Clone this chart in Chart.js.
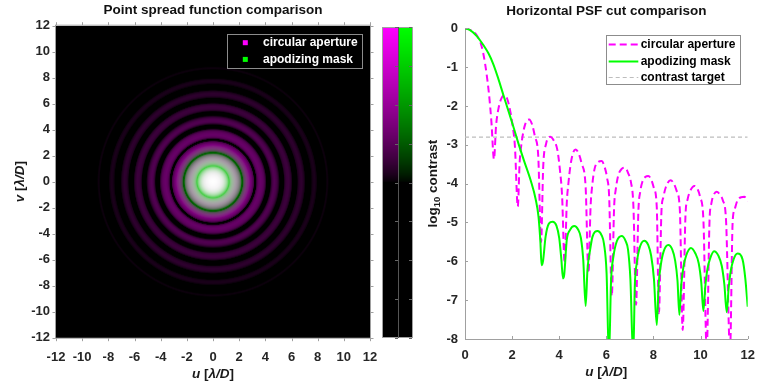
<!DOCTYPE html>
<html>
<head>
<meta charset="utf-8">
<script src="https://cdn.jsdelivr.net/npm/chart.js@4.4.1/dist/chart.umd.min.js"></script>
<style>
    html, body { margin: 0; padding: 0; background: #fff; }
    #wrap { position: relative; width: 757px; height: 383px; overflow: hidden; }
    #psfChart { position: absolute; left: 0; top: 0; }
    #cutChart { position: absolute; left: 418px; top: 0; }
</style>
</head>
<body>
<div id="wrap">
    <canvas id="psfChart" width="418" height="383"></canvas>
    <canvas id="cutChart" width="347" height="383"></canvas>
</div>
<script>
// horizontal cut through the PSF (u >= 0), log10 contrast
const circU = [0, 0.25, 0.5, 0.7, 0.85, 1.02, 1.12, 1.23, 1.32, 1.41, 1.52, 1.65, 1.78, 1.91, 2.02, 2.12, 2.24,
    2.32, 2.40, 2.55, 2.72, 2.85, 2.97, 3.11, 3.23, 3.32, 3.44, 3.61, 3.78, 3.92, 4.03, 4.12, 4.23,
    4.32, 4.39, 4.47, 4.58, 4.70, 4.84, 4.95, 5.12, 5.24, 5.33, 5.40, 5.50, 5.64, 5.80, 5.95, 6.03, 6.12, 6.23,
    6.33, 6.40, 6.50, 6.65, 6.79, 6.94, 7.04, 7.15, 7.26, 7.36, 7.44, 7.53, 7.65, 7.78, 7.92, 8.02, 8.14, 8.23,
    8.34, 8.42, 8.52, 8.73, 8.88, 8.98, 9.12, 9.24, 9.36, 9.45, 9.55, 9.74, 9.88, 9.98, 10.12, 10.26,
    10.38, 10.46, 10.55, 10.68, 10.84, 10.94, 11.08, 11.25, 11.36, 11.44, 11.56, 11.72, 11.86, 12.0];
const circLog = [0, -0.05, -0.18, -0.45, -0.9, -1.7, -2.4, -3.37, -2.5, -2.1, -1.84, -1.73, -1.8, -2.1, -2.5, -3.05, -4.59,
    -3.45, -2.96, -2.48, -2.35, -2.48, -2.79, -3.3, -5.5, -3.56, -2.98, -2.79, -2.9, -3.13, -3.65, -4.3, -6.05,
    -4.5, -3.99, -3.56, -3.22, -3.12, -3.25, -3.48, -4.08, -6.3, -4.6, -4.05, -3.62, -3.45, -3.42, -3.62, -3.85, -4.35, -6.9,
    -4.6, -4.15, -3.8, -3.62, -3.59, -3.75, -3.95, -4.6, -7.12, -4.7, -4.2, -3.95, -3.83, -3.8, -3.92, -4.12, -4.6, -7.34,
    -4.7, -4.35, -4.1, -3.91, -4.02, -4.18, -4.68, -7.77, -4.8, -4.4, -4.2, -4.06, -4.15, -4.34, -4.94, -8.3,
    -4.95, -4.5, -4.3, -4.21, -4.3, -4.42, -4.94, -8.3, -5.0, -4.68, -4.44, -4.35, -4.34, -4.45];

const apodU = [0, 0.2, 0.5, 0.8, 1.0, 1.2, 1.4, 1.63, 1.85, 2.05, 2.26, 2.5, 2.79, 3.0, 3.12, 3.2, 3.25,
    3.31, 3.42, 3.56, 3.72, 3.88, 4.0, 4.09, 4.16, 4.21, 4.32, 4.46, 4.64, 4.80, 4.92, 5.02, 5.12,
    5.2, 5.31, 5.41, 5.63, 5.80, 5.90, 6.01, 6.11, 6.2, 6.3, 6.44, 6.65, 6.82, 6.92, 7.02, 7.14,
    7.21, 7.29, 7.43, 7.61, 7.78, 7.90, 8.02, 8.14, 8.22, 8.31, 8.43, 8.63, 8.80, 8.92, 9.02, 9.10,
    9.18, 9.27, 9.39, 9.59, 9.78, 9.92, 10.03, 10.12, 10.2, 10.29, 10.41, 10.57, 10.76, 10.9, 11.01, 11.11,
    11.19, 11.28, 11.40, 11.57, 11.78, 11.9, 12.0];
const apodLog = [0, -0.04, -0.2, -0.45, -0.65, -0.92, -1.27, -1.72, -2.14, -2.53, -2.95, -3.4, -3.92, -4.4, -4.85, -5.5, -6.1,
    -6.0, -5.37, -5.03, -4.98, -5.08, -5.4, -5.95, -6.44, -6.35, -5.45, -5.19, -5.09, -5.18, -5.4, -5.97, -7.15,
    -6.2, -5.71, -5.37, -5.22, -5.33, -5.55, -6.31, -8.5, -6.5, -5.88, -5.49, -5.35, -5.48, -5.7, -6.45, -8.5,
    -6.6, -6.05, -5.62, -5.47, -5.58, -5.85, -6.45, -7.64, -6.6, -6.1, -5.75, -5.58, -5.7, -5.98, -6.5, -7.38,
    -6.6, -6.15, -5.85, -5.66, -5.8, -6.05, -6.55, -7.28, -6.65, -6.2, -5.92, -5.74, -5.86, -6.12, -6.6, -7.31,
    -6.7, -6.25, -5.95, -5.8, -5.95, -6.45, -7.17];

const contrastTarget = -2.8;

const psfRange = [-12, 12];
const cutURange = [0, 12];
const cutLogRange = [-8, 0];
const colourRange = [-8, 0];
const blackLevel = -4;

const seriesLabels = ['circular aperture', 'apodizing mask', 'contrast target'];

const FONT = '"Liberation Sans", Arial, Helvetica, sans-serif';
const TEXT_COLOR = '#262626';
const AXIS_COLOR = '#a0a0a0';

Chart.defaults.font.family = FONT;
Chart.defaults.animation = false;

// 0..255 level of one colour channel for a log10 contrast value
function colourLevel(L) {
    const t = Math.min(1, Math.max(0, (L - blackLevel) / (0 - blackLevel)));
    return Math.round(255 * Math.pow(t, 0.75));
}

// log10 contrast at radius r, from a cut profile
function profileAt(us, ls, r) {
    if (r >= us[us.length - 1]) return ls[ls.length - 1];
    let lo = 0, hi = us.length - 1;
    while (hi - lo > 1) {
        const mid = (lo + hi) >> 1;
        if (us[mid] <= r) lo = mid; else hi = mid;
    }
    const f = (r - us[lo]) / (us[hi] - us[lo]);
    return ls[lo] + f * (ls[hi] - ls[lo]);
}

function toPoints(us, ls) {
    return us.map(function (u, i) { return { x: u, y: ls[i] }; });
}

function drawRichText(ctx, parts, cx, cy, rotate) {
    ctx.save();
    ctx.translate(cx, cy);
    if (rotate) ctx.rotate(-Math.PI / 2);
    ctx.textBaseline = 'middle';
    ctx.textAlign = 'left';
    ctx.fillStyle = '#1a1a1a';
    let total = 0;
    parts.forEach(function (p) {
        ctx.font = (p.italic ? 'italic ' : '') + 'bold ' + (p.sub ? 9.5 : 13.5) + 'px ' + FONT;
        p.w = ctx.measureText(p.text).width;
        total += p.w;
    });
    let x = -total / 2;
    parts.forEach(function (p) {
        ctx.font = (p.italic ? 'italic ' : '') + 'bold ' + (p.sub ? 9.5 : 13.5) + 'px ' + FONT;
        ctx.fillText(p.text, x, p.sub ? 4 : 0);
        x += p.w;
    });
    ctx.restore();
}

function drawTitle(chart, text, y) {
    const ctx = chart.ctx, a = chart.chartArea;
    ctx.save();
    ctx.font = 'bold 13.5px ' + FONT;
    ctx.fillStyle = '#111';
    ctx.textAlign = 'center';
    ctx.textBaseline = 'middle';
    ctx.fillText(text, (a.left + a.right) / 2, y);
    ctx.restore();
}

const uLabel = [{ text: 'u', italic: true }, { text: ' [' }, { text: 'λ/D', italic: true }, { text: ']' }];
const vLabel = [{ text: 'v', italic: true }, { text: ' [' }, { text: 'λ/D', italic: true }, { text: ']' }];
const logLabel = [{ text: 'log' }, { text: '10', sub: true }, { text: ' contrast' }];

// PSF image, colour bar, frame and legend of the left panel
const psfPanelPlugin = {
    id: 'psfPanel',
    beforeDatasetsDraw(chart) {
        const ctx = chart.ctx, a = chart.chartArea;
        const xs = chart.scales.x, ys = chart.scales.y;
        const w = Math.round(a.right - a.left), h = Math.round(a.bottom - a.top);
        const off = document.createElement('canvas');
        off.width = w;
        off.height = h;
        const octx = off.getContext('2d');
        const img = octx.createImageData(w, h);
        for (let j = 0; j < h; j++) {
            const v = ys.getValueForPixel(a.top + (j + 0.5) * (a.bottom - a.top) / h);
            for (let i = 0; i < w; i++) {
                const u = xs.getValueForPixel(a.left + (i + 0.5) * (a.right - a.left) / w);
                const r = Math.sqrt(u * u + v * v);
                const m = colourLevel(profileAt(circU, circLog, r));
                const g = colourLevel(profileAt(apodU, apodLog, r));
                const k = (j * w + i) * 4;
                img.data[k] = m;
                img.data[k + 1] = g;
                img.data[k + 2] = m;
                img.data[k + 3] = 255;
            }
        }
        octx.putImageData(img, 0, 0);
        ctx.drawImage(off, a.left, a.top, a.right - a.left, a.bottom - a.top);
    },
    afterDraw(chart) {
        const ctx = chart.ctx, a = chart.chartArea;
        const xs = chart.scales.x, ys = chart.scales.y;

        // frame with outward ticks
        ctx.save();
        ctx.strokeStyle = AXIS_COLOR;
        ctx.lineWidth = 1;
        ctx.strokeRect(a.left - 0.5, a.top - 0.5, a.right - a.left + 1, a.bottom - a.top + 1);
        ctx.beginPath();
        xs.ticks.forEach(function (t) {
            const px = Math.round(xs.getPixelForValue(t.value)) + 0.5;
            ctx.moveTo(px, a.top - 0.5); ctx.lineTo(px, a.top - 3.5);
            ctx.moveTo(px, a.bottom + 0.5); ctx.lineTo(px, a.bottom + 3.5);
        });
        ys.ticks.forEach(function (t) {
            const py = Math.round(ys.getPixelForValue(t.value)) + 0.5;
            ctx.moveTo(a.left - 0.5, py); ctx.lineTo(a.left - 3.5, py);
            ctx.moveTo(a.right + 0.5, py); ctx.lineTo(a.right + 3.5, py);
        });
        ctx.stroke();
        ctx.restore();

        // colour bar: left half for the circular aperture, right half for the mask
        const cb = { left: 382, right: 413, top: 27, bottom: 338 };
        const mid = Math.round((cb.left + cb.right) / 2);
        const rows = cb.bottom - cb.top;
        for (let j = 0; j < rows; j++) {
            const L = colourRange[1] + (j + 0.5) / rows * (colourRange[0] - colourRange[1]);
            const c = colourLevel(L);
            ctx.fillStyle = 'rgb(' + c + ',0,' + c + ')';
            ctx.fillRect(cb.left, cb.top + j, mid - cb.left, 1);
            ctx.fillStyle = 'rgb(0,' + c + ',0)';
            ctx.fillRect(mid, cb.top + j, cb.right - mid, 1);
        }
        ctx.save();
        ctx.strokeStyle = AXIS_COLOR;
        ctx.lineWidth = 1;
        ctx.strokeRect(cb.left + 0.5, cb.top + 0.5, cb.right - cb.left - 1, cb.bottom - cb.top - 1);
        ctx.strokeStyle = '#555';
        ctx.beginPath();
        ctx.moveTo(mid + 0.5, cb.top);
        ctx.lineTo(mid + 0.5, cb.bottom);
        ctx.stroke();
        ctx.strokeStyle = '#666';
        ctx.beginPath();
        for (let L = colourRange[0]; L <= colourRange[1]; L++) {
            const py = Math.round(cb.top + (colourRange[1] - L) / (colourRange[1] - colourRange[0]) * (cb.bottom - cb.top)) + 0.5;
            ctx.moveTo(cb.right - 1, py); ctx.lineTo(cb.right - 4, py);
            ctx.moveTo(mid, py); ctx.lineTo(mid - 3, py);
        }
        ctx.stroke();
        ctx.restore();

        // legend
        const box = { x: a.right - 8 - 134.7, y: a.top + 8.3, w: 134.7, h: 34.3 };
        ctx.save();
        ctx.fillStyle = '#000';
        ctx.fillRect(box.x, box.y, box.w, box.h);
        ctx.strokeStyle = '#8c8c8c';
        ctx.lineWidth = 1;
        ctx.strokeRect(Math.round(box.x) + 0.5, Math.round(box.y) + 0.5, Math.round(box.w), Math.round(box.h));
        ctx.font = 'bold 12px ' + FONT;
        ctx.textBaseline = 'middle';
        chart.data.datasets.forEach(function (ds, i) {
            const yy = box.y + 8.7 + i * 16.7;
            ctx.fillStyle = ds.backgroundColor;
            ctx.fillRect(box.x + 15.5, yy - 2.5, 5, 5);
            ctx.fillStyle = '#fff';
            ctx.fillText(ds.label, box.x + 35.7, yy);
        });
        ctx.restore();

        drawTitle(chart, 'Point spread function comparison', 10.5);
        drawRichText(ctx, uLabel, (a.left + a.right) / 2, 374, false);
        drawRichText(ctx, vLabel, 20, (a.top + a.bottom) / 2, true);
    }
};

// inward ticks, legend and labels of the right panel
const cutPanelPlugin = {
    id: 'cutPanel',
    afterDraw(chart) {
        const ctx = chart.ctx, a = chart.chartArea;
        const xs = chart.scales.x, ys = chart.scales.y;
        ctx.save();
        ctx.strokeStyle = AXIS_COLOR;
        ctx.lineWidth = 1;
        ctx.beginPath();
        xs.ticks.forEach(function (t) {
            const px = Math.round(xs.getPixelForValue(t.value)) + 0.5;
            ctx.moveTo(px, a.bottom); ctx.lineTo(px, a.bottom - 3);
        });
        ys.ticks.forEach(function (t) {
            const py = Math.round(ys.getPixelForValue(t.value)) + 0.5;
            ctx.moveTo(a.left, py); ctx.lineTo(a.left + 3, py);
        });
        ctx.stroke();
        ctx.restore();

        const box = { x: a.right - 7.7 - 134, y: a.top + 6.7, w: 134, h: 49 };
        ctx.save();
        ctx.fillStyle = '#fff';
        ctx.fillRect(box.x, box.y, box.w, box.h);
        ctx.strokeStyle = '#8c8c8c';
        ctx.lineWidth = 1;
        ctx.strokeRect(Math.round(box.x) + 0.5, Math.round(box.y) + 0.5, Math.round(box.w), Math.round(box.h));
        ctx.font = 'bold 12px ' + FONT;
        ctx.textBaseline = 'middle';
        chart.data.datasets.forEach(function (ds, i) {
            const yy = Math.round(box.y + 9.3 + i * 16.2) + 0.5;
            ctx.strokeStyle = ds.borderColor;
            ctx.lineWidth = ds.borderWidth;
            ctx.setLineDash(ds.borderDash || []);
            ctx.beginPath();
            ctx.moveTo(box.x + 2.7, yy);
            ctx.lineTo(box.x + 32.3, yy);
            ctx.stroke();
            ctx.setLineDash([]);
            ctx.fillStyle = '#000';
            ctx.fillText(ds.label, box.x + 34.7, yy);
        });
        ctx.restore();

        drawTitle(chart, 'Horizontal PSF cut comparison', 11);
        drawRichText(ctx, uLabel, (a.left + a.right) / 2, 372, false);
        drawRichText(ctx, logLabel, 15, (a.top + a.bottom) / 2, true);
    }
};

function tickFont() {
    return { family: FONT, size: 13, weight: 'bold' };
}

function initCharts() {
    GeneratePsfChart();
    GenerateCutChart();
}

function GeneratePsfChart() {
    var psfChartControl = document.getElementById('psfChart');

    new Chart(psfChartControl, {
        type: 'scatter',
        data: {
            datasets: [
                { label: seriesLabels[0], data: [], backgroundColor: '#ff00ff', borderColor: '#ff00ff' },
                { label: seriesLabels[1], data: [], backgroundColor: '#00ff00', borderColor: '#00ff00' }
            ]
        },
        options: {
            responsive: false,
            layout: { padding: { top: 25.7, right: 48, left: 0, bottom: 0 } },
            plugins: { legend: { display: false }, title: { display: false }, tooltip: { enabled: false } },
            scales: {
                x: {
                    type: 'linear',
                    min: psfRange[0],
                    max: psfRange[1],
                    grid: { display: false, drawTicks: false },
                    border: { display: false },
                    ticks: { stepSize: 2, autoSkip: false, maxRotation: 0, padding: 11.5, color: TEXT_COLOR, font: tickFont() },
                    afterFit: function (s) { s.height = 45.3; }
                },
                y: {
                    type: 'linear',
                    min: psfRange[0],
                    max: psfRange[1],
                    grid: { display: false, drawTicks: false },
                    border: { display: false },
                    ticks: { stepSize: 2, autoSkip: false, padding: 6, color: TEXT_COLOR, font: tickFont() },
                    afterFit: function (s) { s.width = 56; }
                }
            }
        },
        plugins: [psfPanelPlugin]
    });
}

function GenerateCutChart() {
    var cutChartControl = document.getElementById('cutChart');

    new Chart(cutChartControl, {
        type: 'line',
        data: {
            datasets: [
                {
                    label: seriesLabels[0],
                    data: toPoints(circU, circLog),
                    borderColor: '#ff00ff',
                    borderWidth: 2,
                    borderDash: [7, 4],
                    pointRadius: 0,
                    cubicInterpolationMode: 'monotone',
                    order: 1
                },
                {
                    label: seriesLabels[1],
                    data: toPoints(apodU, apodLog),
                    borderColor: '#00ff00',
                    borderWidth: 2,
                    pointRadius: 0,
                    cubicInterpolationMode: 'monotone',
                    order: 0
                },
                {
                    label: seriesLabels[2],
                    data: [{ x: cutURange[0], y: contrastTarget }, { x: cutURange[1], y: contrastTarget }],
                    borderColor: '#bdbdbd',
                    borderWidth: 1.2,
                    borderDash: [4, 3],
                    pointRadius: 0,
                    order: 2
                }
            ]
        },
        options: {
            responsive: false,
            layout: { padding: { top: 28.3, right: 17.3, left: 0, bottom: 0 } },
            plugins: { legend: { display: false }, title: { display: false }, tooltip: { enabled: false } },
            scales: {
                x: {
                    type: 'linear',
                    min: cutURange[0],
                    max: cutURange[1],
                    grid: { display: false, drawTicks: false },
                    border: { display: true, color: AXIS_COLOR, width: 1 },
                    ticks: { stepSize: 2, autoSkip: false, maxRotation: 0, padding: 9, color: TEXT_COLOR, font: tickFont() },
                    afterFit: function (s) { s.height = 44; }
                },
                y: {
                    type: 'linear',
                    min: cutLogRange[0],
                    max: cutLogRange[1],
                    grid: { display: false, drawTicks: false },
                    border: { display: true, color: AXIS_COLOR, width: 1 },
                    ticks: { stepSize: 1, autoSkip: false, padding: 7, color: TEXT_COLOR, font: tickFont() },
                    afterFit: function (s) { s.width = 47; }
                }
            }
        },
        plugins: [cutPanelPlugin]
    });
}

initCharts();
</script>
</body>
</html>
